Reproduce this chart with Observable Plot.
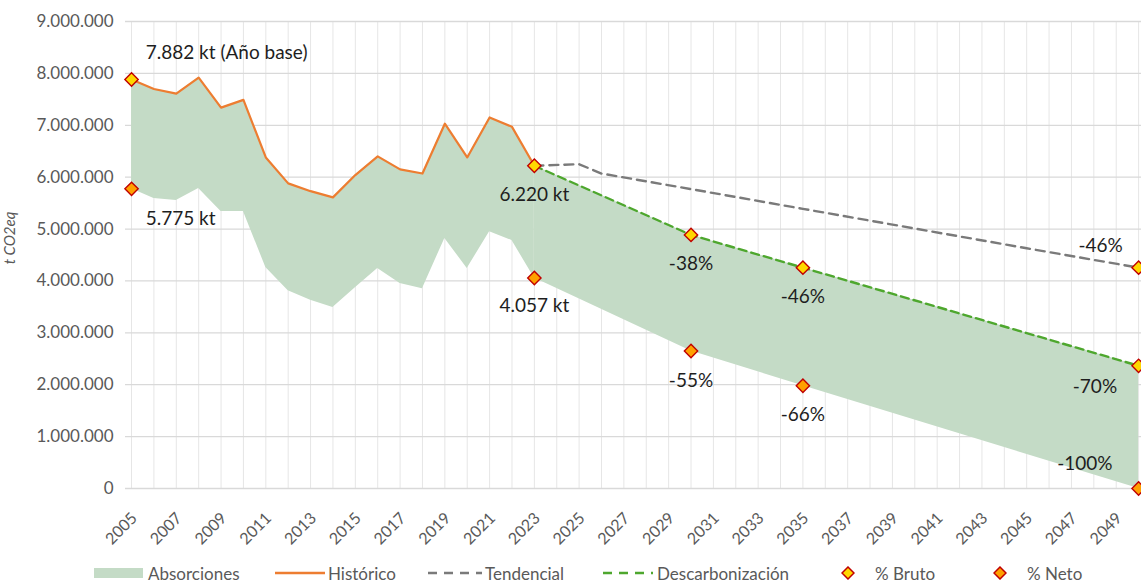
<!DOCTYPE html>
<html>
<head>
<meta charset="utf-8">
<script src="https://cdn.jsdelivr.net/npm/d3@7"></script>
<script src="https://cdn.jsdelivr.net/npm/@observablehq/plot@0.6"></script>
<style>
  html, body { margin: 0; padding: 0; background: #fff; }
  #wrap { position: relative; width: 1141px; height: 583px; overflow: hidden; font-family: Lato, "Open Sans", sans-serif; }
  #legend { position: absolute; left: 0; top: 563px; width: 1141px; height: 20px; }
  .li { position: absolute; top: 0; height: 20px; display: flex; align-items: center; font-size: 17px; color: #595959; white-space: nowrap; }
</style>
</head>
<body>
<div id="wrap"><div id="chart"></div><div id="legend"></div></div>
<script>
// ---- data ----
const histYears = [2005, 2006, 2007, 2008, 2009, 2010, 2011, 2012, 2013, 2014, 2015, 2016, 2017, 2018, 2019, 2020, 2021, 2022, 2023];
const historico = [7882000, 7700000, 7610000, 7920000, 7340000, 7490000, 6380000, 5880000, 5730000, 5610000, 6040000, 6400000, 6150000, 6070000, 7030000, 6380000, 7150000, 6970000, 6220000];
const netoHist  = [5775000, 5590000, 5550000, 5780000, 5340000, 5340000, 4260000, 3810000, 3630000, 3490000, 3870000, 4240000, 3950000, 3850000, 4820000, 4240000, 4950000, 4780000, 4057000];

const futYears = [2023, 2030, 2035, 2050];
const descarbonizacion = [6220000, 4887000, 4256000, 2365000];
const netoFut = [4057000, 2650000, 1980000, 0];

const tendYears = [2023, 2025, 2026, 2030, 2035, 2040, 2045, 2050];
const tendencial = [6220000, 6250000, 6070000, 5770000, 5390000, 5010000, 4630000, 4256000];

const brutoYears = [2005, 2023, 2030, 2035, 2050, 2050];
const brutoValues = [7882000, 6220000, 4887000, 4256000, 2365000, 4256000];
const netoYears = [2005, 2023, 2030, 2035, 2050];
const netoValues = [5775000, 4057000, 2650000, 1980000, 0];

const labelTexts = ["7.882 kt (Año base)", "5.775 kt", "6.220 kt", "4.057 kt", "-38%", "-55%", "-46%", "-66%", "-46%", "-70%", "-100%"];
const labelYears = [2005.63, 2005.63, 2023, 2023, 2030, 2030, 2035, 2035, 2048.3, 2048.05, 2047.6];
const labelValues = [8400000, 5200000, 5660000, 3510000, 4330000, 2080000, 3700000, 1410000, 4680000, 1950000, 480000];
const labelAnchors = ["start", "start", "middle", "middle", "middle", "middle", "middle", "middle", "middle", "middle", "middle"];

const yTicks = [0, 1000000, 2000000, 3000000, 4000000, 5000000, 6000000, 7000000, 8000000, 9000000];
const gridYears = [2005, 2006, 2007, 2008, 2009, 2010, 2011, 2012, 2013, 2014, 2015, 2016, 2017, 2018, 2019, 2020, 2021, 2022, 2023, 2024, 2025, 2026, 2027, 2028, 2029, 2030, 2031, 2032, 2033, 2034, 2035, 2036, 2037, 2038, 2039, 2040, 2041, 2042, 2043, 2044, 2045, 2046, 2047, 2048, 2049, 2050];
const tickYears = [2005, 2007, 2009, 2011, 2013, 2015, 2017, 2019, 2021, 2023, 2025, 2027, 2029, 2031, 2033, 2035, 2037, 2039, 2041, 2043, 2045, 2047, 2049];

const legendNames = ["Absorciones", "Histórico", "Tendencial", "Descarbonización", "% Bruto", "% Neto"];

// ---- build tables ----
const hist = histYears.map((x, i) => ({x, hi: historico[i], lo: netoHist[i]}));
const fut = futYears.map((x, i) => ({x, hi: descarbonizacion[i], lo: netoFut[i]}));
const tend = tendYears.map((x, i) => ({x, y: tendencial[i]}));
const bruto = brutoYears.map((x, i) => ({x, y: brutoValues[i]}));
const neto = netoYears.map((x, i) => ({x, y: netoValues[i]}));
const labels = labelTexts.map((t, i) => ({t, x: labelYears[i], y: labelValues[i], a: labelAnchors[i]}));

const fmt = d3.formatLocale({decimal: ",", thousands: ".", grouping: [3], currency: ["", ""]}).format(",d");

const C = {
  area: "#c4dbc6", orange: "#ed7d31", gray: "#7a7a7a", green: "#4ea72e",
  yellow: "#ffd700", neto: "#ffa000", edge: "#c00000", grid: "#d9d9d9", vgrid: "#e6e6e6", tick: "#595959"
};

const chart = Plot.plot({
  width: 1141,
  height: 556,
  marginLeft: 125,
  marginRight: 0,
  marginTop: 21,
  marginBottom: 68,
  style: {fontFamily: "Lato, 'Open Sans', sans-serif", background: "white", overflow: "visible"},
  x: {domain: [2004.73, 2050.13], axis: null},
  y: {domain: [0, 9000000]},
  marks: [
    Plot.ruleX(gridYears, {stroke: C.vgrid, strokeWidth: 1}),
    Plot.ruleY(yTicks, {stroke: C.grid, strokeWidth: 1.3}),
    Plot.areaY(hist, {x: "x", y1: "lo", y2: "hi", fill: C.area}),
    Plot.areaY(fut, {x: "x", y1: "lo", y2: "hi", fill: C.area}),
    Plot.line(tend, {x: "x", y: "y", stroke: C.gray, strokeWidth: 2.4, strokeDasharray: "9,6"}),
    Plot.line(fut, {x: "x", y: "hi", stroke: C.green, strokeWidth: 2.4, strokeDasharray: "8,5"}),
    Plot.line(hist, {x: "x", y: "hi", stroke: C.orange, strokeWidth: 2.2}),
    Plot.dot(bruto, {x: "x", y: "y", symbol: "diamond2", r: 6, fill: C.yellow, stroke: C.edge, strokeWidth: 1.4}),
    Plot.dot(neto, {x: "x", y: "y", symbol: "diamond2", r: 6, fill: C.neto, stroke: C.edge, strokeWidth: 1.4}),
    Plot.text(labels.filter(d => d.a === "start"), {x: "x", y: "y", text: "t", textAnchor: "start", fontSize: 19, fill: "#1e1e1e"}),
    Plot.text(labels.filter(d => d.a === "middle"), {x: "x", y: "y", text: "t", textAnchor: "middle", fontSize: 19, fill: "#1e1e1e"}),
    Plot.axisY(yTicks, {tickSize: 0, tickPadding: 12, tickFormat: fmt, fontSize: 17, fill: C.tick, label: null}),
    // rotated x tick labels
    Plot.text(tickYears, {x: d => d, text: d => String(d), frameAnchor: "bottom", rotate: -45, textAnchor: "end", lineAnchor: "middle", dx: 3, dy: 27, fontSize: 16, fill: C.tick})
  ]
});

// rotated y-axis title
d3.select(chart).append("text")
  .attr("transform", "translate(15,238) rotate(-90)")
  .attr("text-anchor", "middle")
  .attr("font-size", 15)
  .attr("font-style", "italic")
  .attr("fill", C.tick)
  .text("t CO2eq");

document.getElementById("chart").appendChild(chart);

// ---- legend ----
const legend = document.getElementById("legend");
const sw = {
  "Absorciones": `<svg width="50" height="12"><rect x="0" y="1" width="49" height="10" fill="${C.area}"/></svg>`,
  "Histórico": `<svg width="50" height="12"><line x1="0" x2="50" y1="6" y2="6" stroke="${C.orange}" stroke-width="2.5"/></svg>`,
  "Tendencial": `<svg width="54" height="12"><line x1="0" x2="54" y1="6" y2="6" stroke="${C.gray}" stroke-width="2.5" stroke-dasharray="9,7"/></svg>`,
  "Descarbonización": `<svg width="50" height="12"><line x1="0" x2="50" y1="6" y2="6" stroke="${C.green}" stroke-width="2.5" stroke-dasharray="9,7"/></svg>`,
  "% Bruto": `<svg width="14" height="14"><path d="M7,1L13,7L7,13L1,7Z" fill="${C.yellow}" stroke="${C.edge}" stroke-width="1.5"/></svg>`,
  "% Neto": `<svg width="14" height="14"><path d="M7,1L13,7L7,13L1,7Z" fill="${C.neto}" stroke="${C.edge}" stroke-width="1.5"/></svg>`
};
const legLeft = [94, 275, 428, 603, 841, 993];
const legGap = [4, 3, 3, 4, 20, 20];
legendNames.forEach((n, i) => {
  const d = document.createElement("div");
  d.className = "li";
  d.style.left = legLeft[i] + "px";
  d.innerHTML = sw[n] + `<span style="margin-left:${legGap[i]}px">${n}</span>`;
  legend.appendChild(d);
});
</script>
</body>
</html>
